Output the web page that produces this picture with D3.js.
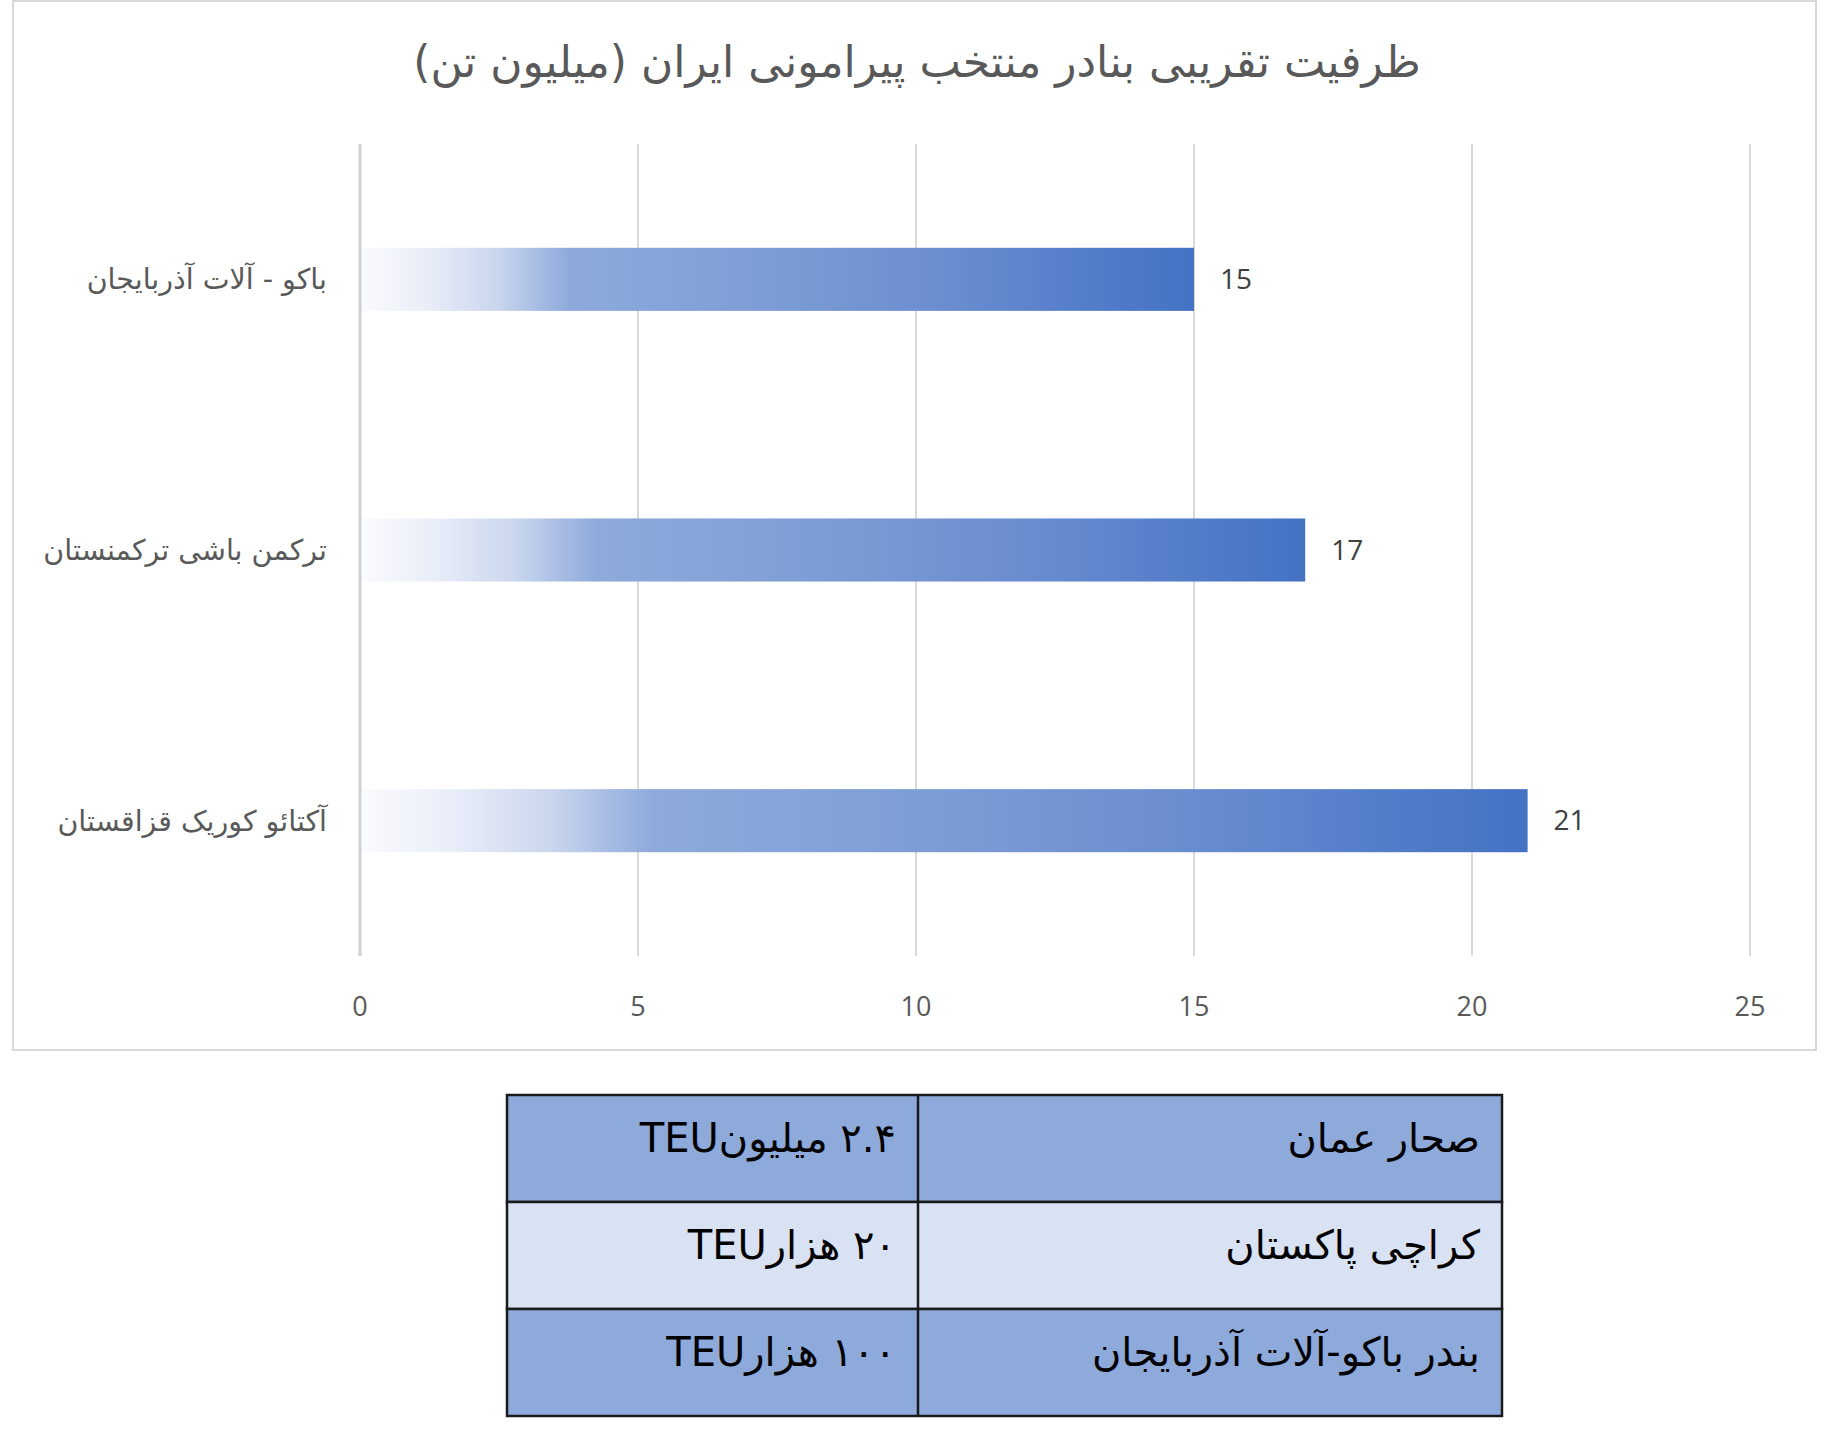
<!DOCTYPE html>
<html>
<head>
<meta charset="utf-8">
<script src="https://cdn.jsdelivr.net/npm/d3@7"></script>
<style>
  body { margin: 0; background: #fff; }
</style>
</head>
<body>
<div id="chart"></div>
<script>
// chart data
const title = "ظرفیت تقریبی بنادر منتخب پیرامونی ایران (میلیون تن)";
const ports = ["باکو - آلات آذربایجان", "ترکمن باشی ترکمنستان", "آکتائو کوریک قزاقستان"];
const capacity = [15, 17, 21];
const xTicks = [0, 5, 10, 15, 20, 25];

// table data
const tablePorts = ["صحار عمان", "کراچی پاکستان", "بندر باکو-آلات آذربایجان"];
const tableTeu = ["۲.۴ میلیونTEU", "۲۰ هزارTEU", "۱۰۰ هزارTEU"];

const W = 1830, H = 1431;
const svg = d3.select("#chart").append("svg")
  .attr("width", W)
  .attr("height", H);

// chart frame
svg.append("rect")
  .attr("x", 13).attr("y", 1)
  .attr("width", 1803).attr("height", 1049)
  .attr("fill", "#fff")
  .attr("stroke", "#d9d9d9")
  .attr("stroke-width", 2);

svg.append("text")
  .attr("x", 917).attr("y", 77)
  .attr("direction", "rtl")
  .attr("text-anchor", "middle")
  .attr("font-family", "DejaVu Sans, sans-serif")
  .attr("font-size", 44)
  .attr("fill", "#595959")
  .text(title);

// scales
const x = d3.scaleLinear().domain([0, 25]).range([360, 1750]);
const y = d3.scaleBand().domain(ports).range([144, 956])
  .paddingInner(0.767).paddingOuter(0.3835);

// gridlines
svg.append("g")
  .selectAll("line")
  .data(xTicks)
  .join("line")
    .attr("x1", d => x(d)).attr("x2", d => x(d))
    .attr("y1", 144).attr("y2", 956)
    .attr("stroke", d => d === 0 ? "#d0d0d0" : "#d9d9d9")
    .attr("stroke-width", d => d === 0 ? 3 : 2);

// tick labels
svg.append("g")
  .selectAll("text")
  .data(xTicks)
  .join("text")
    .attr("x", d => x(d))
    .attr("y", 1016)
    .attr("text-anchor", "middle")
    .attr("font-family", "Open Sans, sans-serif")
    .attr("font-size", 27)
    .attr("fill", "#595959")
    .text(d => d);

// gradient for the bars
const grad = svg.append("defs").append("linearGradient")
  .attr("id", "barGrad")
  .attr("x1", "0%").attr("x2", "100%")
  .attr("y1", "0%").attr("y2", "0%");
[
  ["0%", "#fafbfe"], ["8%", "#e8edf8"], ["16%", "#cbd7ee"],
  ["21%", "#a9bde4"], ["25%", "#8eaadb"], ["45%", "#7f9fd6"],
  ["70%", "#6a8dd0"], ["100%", "#4472c4"]
].forEach(s => grad.append("stop").attr("offset", s[0]).attr("stop-color", s[1]));

const data = ports.map((p, i) => ({port: p, value: capacity[i]}));

svg.append("g")
  .selectAll("rect")
  .data(data)
  .join("rect")
    .attr("x", x(0) + 2)
    .attr("y", d => y(d.port))
    .attr("width", d => x(d.value) - x(0) - 2)
    .attr("height", y.bandwidth())
    .attr("fill", "url(#barGrad)");

// value labels
svg.append("g")
  .selectAll("text")
  .data(data)
  .join("text")
    .attr("x", d => x(d.value) + 26)
    .attr("y", d => y(d.port) + y.bandwidth() / 2)
    .attr("dy", "0.35em")
    .attr("font-family", "Open Sans, sans-serif")
    .attr("font-size", 28)
    .attr("fill", "#404040")
    .text(d => d.value);

// category labels
svg.append("g")
  .selectAll("text")
  .data(data)
  .join("text")
    .attr("x", 327)
    .attr("y", d => y(d.port) + y.bandwidth() / 2)
    .attr("dy", "0.35em")
    .attr("direction", "rtl")
    .attr("text-anchor", "start")
    .attr("font-family", "DejaVu Sans, sans-serif")
    .attr("font-size", 28.5)
    .attr("fill", "#595959")
    .text(d => d.port);

// table under the chart
const tx0 = 507, tx1 = 918, tx2 = 1502;
const rowY = d3.scaleBand().domain(d3.range(tablePorts.length)).range([1095, 1416]);
const rowFill = ["#8eaadb", "#d9e2f3", "#8eaadb"];

const rows = svg.append("g")
  .selectAll("g")
  .data(tablePorts.map((p, i) => ({port: p, teu: tableTeu[i], i: i})))
  .join("g")
    .attr("transform", d => `translate(0,${rowY(d.i)})`);

rows.append("rect")
  .attr("x", tx0).attr("width", tx2 - tx0)
  .attr("height", rowY.bandwidth())
  .attr("fill", d => rowFill[d.i])
  .attr("stroke", "#1a1a1a")
  .attr("stroke-width", 2.5);

rows.append("line")
  .attr("x1", tx1).attr("x2", tx1)
  .attr("y1", 0).attr("y2", rowY.bandwidth())
  .attr("stroke", "#1a1a1a")
  .attr("stroke-width", 2.5);

rows.append("text")
  .attr("x", 1480).attr("y", 57)
  .attr("direction", "rtl")
  .attr("text-anchor", "start")
  .attr("font-family", "DejaVu Sans, sans-serif")
  .attr("font-size", 40)
  .attr("fill", "#000")
  .text(d => d.port);

rows.append("text")
  .attr("x", 896).attr("y", 57)
  .attr("direction", "rtl")
  .attr("text-anchor", "start")
  .attr("font-family", "DejaVu Sans, sans-serif")
  .attr("font-size", 40)
  .attr("fill", "#000")
  .text(d => d.teu);
</script>
</body>
</html>
